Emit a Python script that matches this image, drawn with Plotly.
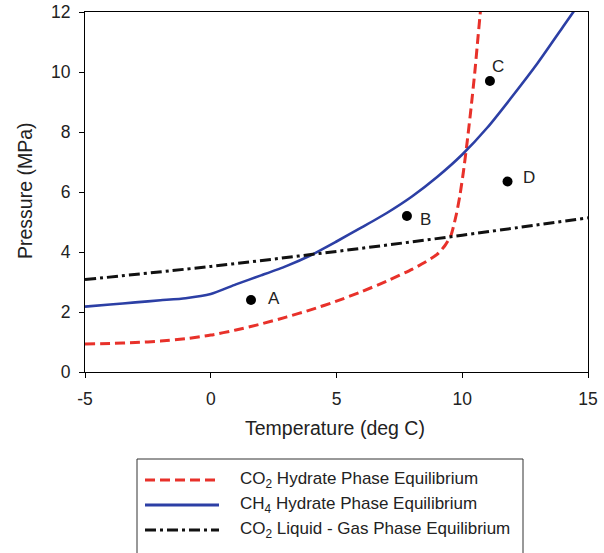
import plotly.graph_objects as go

# ---- data -------------------------------------------------------------
co2_hyd_T = [-5, -4, -3, -2, -1, 0, 1, 2, 3, 4, 5, 6, 7, 8, 8.5, 9, 9.3,
             9.55, 9.75, 9.9, 10.05, 10.2, 10.35, 10.5, 10.62, 10.73]
co2_hyd_P = [0.93, 0.95, 0.98, 1.03, 1.11, 1.23, 1.4, 1.6, 1.83, 2.08, 2.36,
             2.68, 3.03, 3.42, 3.65, 3.92, 4.2, 4.55, 5.2, 5.85, 6.7, 7.7,
             8.8, 10.0, 11.1, 12.1]

ch4_hyd_T = [-5, -4, -3, -2, -1, 0, 1, 2, 3, 4, 5, 6, 7, 8, 9, 10, 11, 12,
             13, 14, 14.5]
ch4_hyd_P = [2.18, 2.25, 2.32, 2.39, 2.46, 2.6, 2.92, 3.22, 3.53, 3.9, 4.35,
             4.82, 5.3, 5.85, 6.5, 7.25, 8.15, 9.2, 10.3, 11.5, 12.1]

co2_lg_T = [-5, 0, 5, 10, 15]
co2_lg_P = [3.08, 3.52, 4.02, 4.56, 5.14]

pt_names = ["A", "B", "C", "D"]
pt_T = [1.6, 7.8, 11.1, 11.8]
pt_P = [2.4, 5.2, 9.7, 6.35]

x_ticks = [-5, 0, 5, 10, 15]
x_tick_text = ["-5", "0", "5", "10", "15"]
y_ticks = [0, 2, 4, 6, 8, 10, 12]

x_title = "Temperature (deg C)"
y_title = "Pressure (MPa)"
legend_names = ["CO<sub>2</sub> Hydrate Phase Equilibrium",
                "CH<sub>4</sub> Hydrate Phase Equilibrium",
                "CO<sub>2</sub> Liquid - Gas Phase Equilibrium"]

# ---- styling ----------------------------------------------------------
FONT = "Liberation Sans, Arial, sans-serif"
TXT = "#222222"
RED, BLUE, BLACK = "#e8312a", "#2c3fa5", "#111111"
RED_DASH = "10px,5px"
DASHDOT = "11px,4px,3px,4px"
label_shift = {"A": (23, 2), "B": (19, -3), "C": (8, 15), "D": (21, 4)}

W, H = 604, 553
L, R, T, B = 85, 16, 12, 181
PW, PH = W - L - R, H - T - B


def px(xp):
    return (xp - L) / PW


def py(yp):
    return (H - B - yp) / PH


fig = go.Figure()
fig.add_trace(go.Scatter(x=co2_hyd_T, y=co2_hyd_P, mode="lines",
                         line=dict(color=RED, width=3, dash=RED_DASH, shape="spline", smoothing=0.6),
                         showlegend=False))
fig.add_trace(go.Scatter(x=ch4_hyd_T, y=ch4_hyd_P, mode="lines",
                         line=dict(color=BLUE, width=2.6, shape="spline", smoothing=0.6),
                         showlegend=False))
fig.add_trace(go.Scatter(x=co2_lg_T, y=co2_lg_P, mode="lines",
                         line=dict(color=BLACK, width=3, dash=DASHDOT, shape="spline"),
                         showlegend=False))
fig.add_trace(go.Scatter(x=pt_T, y=pt_P, mode="markers",
                         marker=dict(color="black", size=10, symbol="circle"),
                         showlegend=False))

for n, xv, yv in zip(pt_names, pt_T, pt_P):
    dx, dy = label_shift[n]
    fig.add_annotation(x=xv, y=yv, text=n, showarrow=False, xshift=dx, yshift=dy,
                       font=dict(family=FONT, size=17, color=TXT))

# axis titles
fig.add_annotation(xref="paper", yref="paper", x=px(335), y=py(428), text=x_title,
                   showarrow=False, xanchor="center", yanchor="middle",
                   font=dict(family=FONT, size=19.5, color=TXT))
fig.add_annotation(xref="paper", yref="paper", x=px(25), y=py(191), text=y_title,
                   showarrow=False, xanchor="center", yanchor="middle", textangle=-90,
                   font=dict(family=FONT, size=19.5, color=TXT))

# legend box drawn below the plot
shapes = [dict(type="rect", xref="paper", yref="paper",
               x0=px(137), x1=px(523), y0=py(562), y1=py(459),
               line=dict(color="#333", width=1), fillcolor="white")]
leg_styles = [(RED, RED_DASH, 3), (BLUE, "solid", 3), (BLACK, DASHDOT, 3)]
for i, (name, (col, dash, w)) in enumerate(zip(legend_names, leg_styles)):
    yy = 480 + 25 * i
    shapes.append(dict(type="line", xref="paper", yref="paper",
                       x0=px(145), x1=px(219), y0=py(yy), y1=py(yy),
                       line=dict(color=col, width=w, dash=dash)))
    fig.add_annotation(xref="paper", yref="paper", x=px(238), y=py(yy),
                       xanchor="left", yanchor="middle", text=name, showarrow=False,
                       font=dict(family=FONT, size=17, color=TXT))

axis_common = dict(showline=True, linecolor="black", linewidth=1, mirror=True,
                   ticks="outside", ticklen=5, tickcolor="black", showgrid=False,
                   zeroline=False, automargin=False,
                   tickfont=dict(family=FONT, size=17.5, color=TXT))

fig.update_layout(
    width=W, height=H,
    margin=dict(l=L, r=R, t=T, b=B),
    paper_bgcolor="white", plot_bgcolor="white",
    shapes=shapes,
    xaxis=dict(range=[-5, 15], tickvals=x_ticks, ticktext=x_tick_text,
               ticklabelstandoff=6, **axis_common),
    yaxis=dict(range=[0, 12], tickvals=y_ticks, ticklabelstandoff=5, **axis_common),
)

fig.write_html("out.html")
